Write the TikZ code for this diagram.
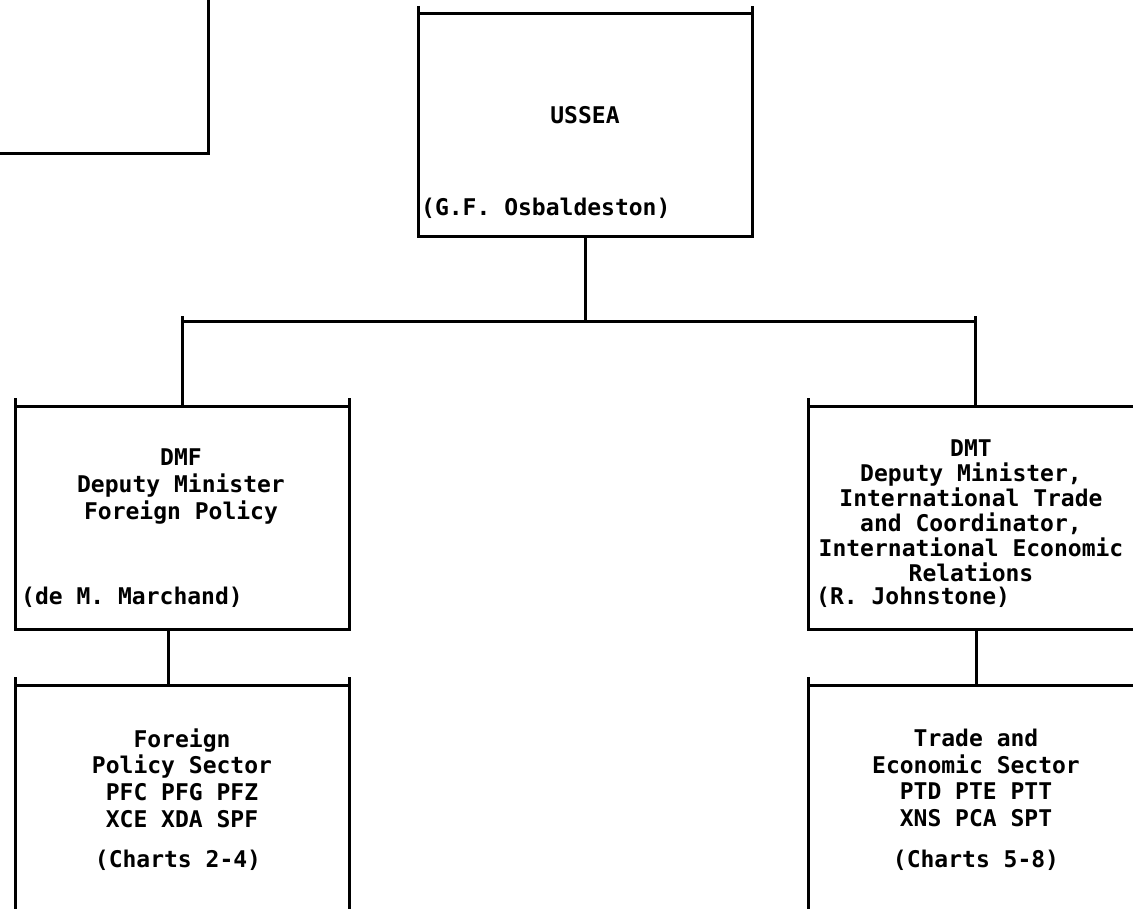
\documentclass[tikz,border=0pt]{standalone}
\usepackage{fontspec}
\newfontfamily\twfont{DejaVu Sans Mono}
\begin{document}
\begin{tikzpicture}[x=1pt,y=-1pt,
  ln/.style={line width=3pt, black},
  boxshape/.style={rectangle, draw=none, inner sep=0pt, outer sep=0pt, anchor=north west},
  txt/.style={font=\twfont\bfseries\fontsize{23}{25}\selectfont, inner sep=0pt, text=black},
  txtb/.style={txt, font=\twfont\bfseries\fontsize{23}{27}\selectfont},
  txtc/.style={txt, font=\twfont\bfseries\fontsize{23}{26.7}\selectfont}]
\useasboundingbox (0,0) rectangle (1133,909);
\clip (0,0) rectangle (1133,909);
\newcommand\drawframe[1]{%
  \draw[ln] ([yshift=8pt]#1.north west) -- (#1.south west) -- (#1.south east) -- ([yshift=8pt]#1.north east);
  \draw[ln] (#1.north west) -- (#1.north east);}
% boxes
\node[boxshape, minimum width=408pt, minimum height=254pt] (tl) at (-200,-100) {};
\node[boxshape, minimum width=334pt, minimum height=223pt] (ussea) at (418,14) {};
\node[boxshape, minimum width=334pt, minimum height=223pt] (dmf) at (15,406) {};
\node[boxshape, minimum width=334pt, minimum height=223pt] (dmt) at (808,406) {};
\node[boxshape, minimum width=334pt, minimum height=300pt] (fps) at (15,685) {};
\node[boxshape, minimum width=334pt, minimum height=300pt] (tes) at (808,685) {};
\drawframe{tl}
\drawframe{ussea}
\drawframe{dmf}
\drawframe{dmt}
\drawframe{fps}
\drawframe{tes}
% connectors
\coordinate (bus) at (585,322);
\draw[ln] (ussea.south) -- (bus);
\draw[ln] (dmf.north) -- ([yshift=6pt]dmf.north |- bus);
\draw[ln] (dmt.north) -- ([yshift=6pt]dmt.north |- bus);
\draw[ln] (dmf.north |- bus) -- (dmt.north |- bus);
\draw[ln] ([xshift=-14pt]dmf.south) -- ([xshift=-14pt]fps.north);
\draw[ln] ([xshift=1pt]dmt.south) -- ([xshift=1pt]tes.north);
% texts
\node[txt] (tussea) at (585,115) {USSEA};
\node[txt, anchor=west] (nussea) at (421,208) {(G.F. Osbaldeston)};
\node[txtb, align=center] (tdmf) at (181,486) {DMF\\Deputy Minister\\Foreign Policy};
\node[txt, anchor=west] (ndmf) at (21,597) {(de M. Marchand)};
\node[txt, align=center] (tdmt) at (971,511) {DMT\\Deputy Minister,\\International Trade\\and Coordinator,\\International Economic\\Relations};
\node[txt, anchor=west] (ndmt) at (816,597) {(R. Johnstone)};
\node[txtc, align=center] (tfps) at (182,778) {Foreign\\Policy Sector\\PFC PFG PFZ\\XCE XDA SPF};
\node[txt] (cfps) at (178,860) {(Charts 2-4)};
\node[txtc, align=center] (ttes) at (976,778) {Trade and\\Economic Sector\\PTD PTE PTT\\XNS PCA SPT};
\node[txt] (ctes) at (976,860) {(Charts 5-8)};
\end{tikzpicture}
\end{document}
